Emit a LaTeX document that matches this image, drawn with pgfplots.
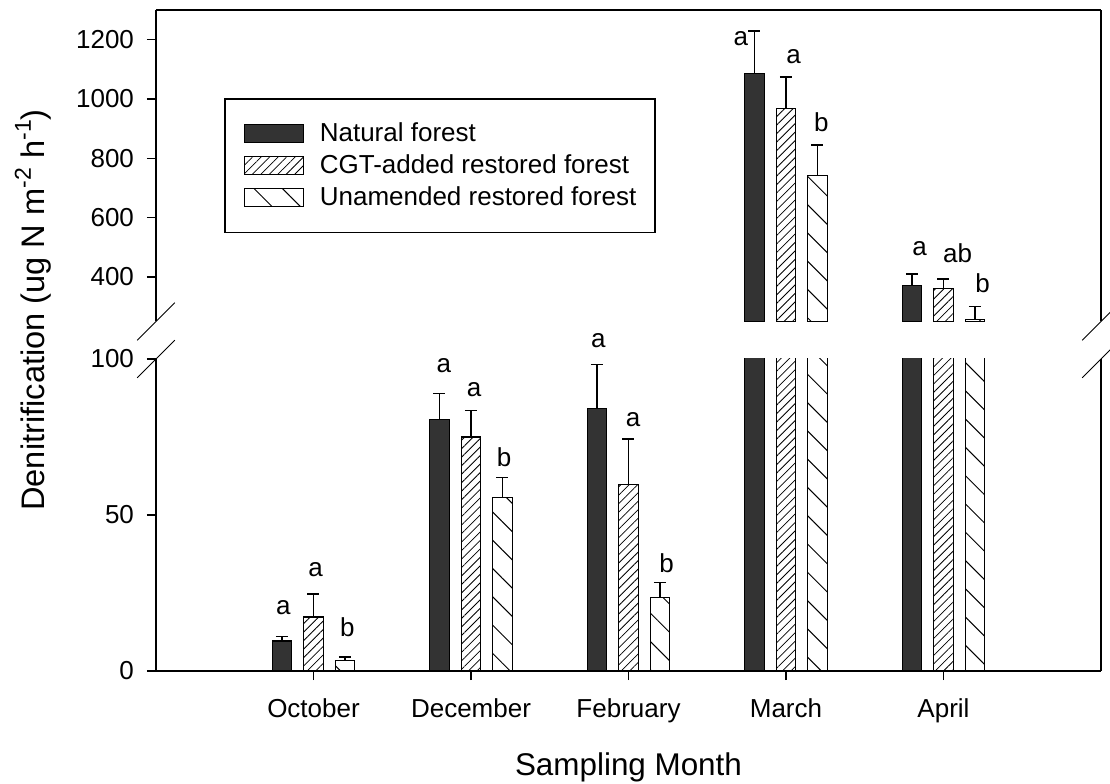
\documentclass[border=0pt]{standalone}
\usepackage{fontspec}
\setmainfont{Liberation Sans}
\usepackage{pgfplots}
\usepackage{pgfplotstable}
\pgfplotsset{compat=1.18}
\usetikzlibrary{patterns.meta}

% x positions of the three bars in each month, value, and upper error
\pgfplotstableread{
xn xc xu nat natE cgt cgtE una unaE
0.8 1 1.2 9.6 1.5 17.3 7.3 3.4 1.1
1.8 2 2.2 80.5 8.4 75.0 8.5 55.7 6.3
2.8 3 3.2 84.1 14.1 59.7 14.6 23.6 4.8
3.8 4 4.2 1085 144 969 105 743 101
4.8 5 5.2 372 39 360 33 256 45
}\data

\newcommand{\supx}[1]{\raisebox{0.42em}{\fontsize{11.5}{12}\selectfont #1}}

\pgfplotsset{
  common/.style={
    scale only axis, width=472.5pt, xmin=0, xmax=6,
    clip mode=individual,
    tick align=outside, major tick length=4.5pt,
    ytick pos=left,
    axis line style={line width=0.9pt, black},
    tick style={line width=0.8pt, black},
    tick label style={font=\fontsize{13}{15}\selectfont},
    yticklabel style={xshift=-3pt},
    /pgf/number format/assume math mode=true,
    /pgf/number format/1000 sep={},
  },
  errs/.style={error bars/y dir=plus, error bars/y explicit,
    error bars/error bar style={line width=0.8pt, black, solid},
    error bars/error mark options={black, rotate=90, mark size=3pt, line width=0.8pt}},
  bars/.style={ybar, bar width=0.124, bar shift=0, draw=black, line width=0.6pt, errs},
  natS/.style={bars, fill=black!80},
  cgtS/.style={bars, pattern={Lines[angle=45, distance=3pt, line width=0.4pt]}, pattern color=black},
  unaS/.style={bars, pattern={Lines[angle=-45, distance=10pt, line width=0.5pt]}, pattern color=black},
  sq/.style={legend image code/.code={\draw[##1] (0pt,-4.5pt) rectangle (29.5pt,4.5pt);}},
}

\begin{document}
\begin{tikzpicture}
\useasboundingbox (0,0) rectangle (555pt,391.5pt);

% lower panel
\begin{axis}[common, name=low, at={(78pt,56pt)}, anchor=south west,
  height=156pt, ymin=0, ymax=100, ytick={0,50,100},
  axis x line*=bottom,
  xtick={1,2,3,4,5}, xticklabels={October,December,February,March,April},
  xticklabel style={yshift=-6pt},
  xlabel={Sampling Month},
  xlabel style={font=\fontsize{15.7}{18}\selectfont, at={(axis description cs:0.5,0)}, anchor=base, yshift=-52pt},
]
\addplot[natS] table[x=xn, y=nat, y error=natE] {\data};
\addplot[cgtS] table[x=xc, y=cgt, y error=cgtE] {\data};
\addplot[unaS] table[x=xu, y=una, y error=unaE] {\data};
\begin{scope}[every node/.style={anchor=base, font=\fontsize{13}{15}\selectfont, inner sep=0pt}]
\node at (axis cs:0.809,18.1) {a};
\node at (axis cs:1.013,30.3) {a};
\node at (axis cs:1.215,11.2) {b};
\node at (axis cs:1.828,95.6) {a};
\node at (axis cs:2.019,88.1) {a};
\node at (axis cs:2.210,65.7) {b};
\node at (axis cs:2.809,103.7) {a};
\node at (axis cs:3.030,78.4) {a};
\node at (axis cs:3.242,31.6) {b};
\end{scope}
\end{axis}

% upper panel
\begin{axis}[common, name=up, at={(78pt,230.75pt)}, anchor=south west,
  height=155.75pt, ymin=250, ymax=1300, ytick={400,600,800,1000,1200},
  axis x line*=top, xtick=\empty,
  legend style={at={(0.0723,0.7165)}, anchor=north west, draw=black, line width=0.6pt,
    font=\fontsize{13}{15}\selectfont, inner xsep=9.35pt, inner ysep=12pt,
    row sep=5pt, column sep=0pt, nodes={inner sep=0pt}},
  legend cell align=left,
]
\addplot[natS, sq, skip coords between index={0}{3}] table[x=xn, y=nat, y error=natE] {\data};
\addlegendentry{\hspace*{8pt}Natural forest}
\addplot[cgtS, sq, skip coords between index={0}{3}] table[x=xc, y=cgt, y error=cgtE] {\data};
\addlegendentry{\hspace*{8pt}CGT-added restored forest}
\addplot[unaS, sq, skip coords between index={0}{3}] table[x=xu, y=una, y error=unaE] {\data};
\addlegendentry{\hspace*{8pt}Unamended restored forest}
\begin{scope}[every node/.style={anchor=base, font=\fontsize{13}{15}\selectfont, inner sep=0pt}]
\node at (axis cs:3.713,1182) {a};
\node at (axis cs:4.049,1119) {a};
\node at (axis cs:4.225,892) {b};
\node at (axis cs:4.849,473) {a};
\node at (axis cs:5.089,450) {ab};
\node at (axis cs:5.248,347) {b};
\end{scope}
\end{axis}

% axis break marks
\begin{scope}[line width=0.5pt]
\draw ([shift={(-9.4pt,-9.4pt)}]low.north west) -- ++(18.8pt,18.8pt);
\draw ([shift={(-9.4pt,-9.4pt)}]up.south west) -- ++(18.8pt,18.8pt);
\draw ([shift={(-9.4pt,-9.4pt)}]low.north east) -- ++(18.8pt,18.8pt);
\draw ([shift={(-9.4pt,-9.4pt)}]up.south east) -- ++(18.8pt,18.8pt);
\end{scope}

\node[rotate=90, font=\fontsize{16.3}{18}\selectfont] at (16.5pt,236.5pt)
  {Denitrification (ug N m\supx{-2} h\supx{-1})};
\end{tikzpicture}
\end{document}
